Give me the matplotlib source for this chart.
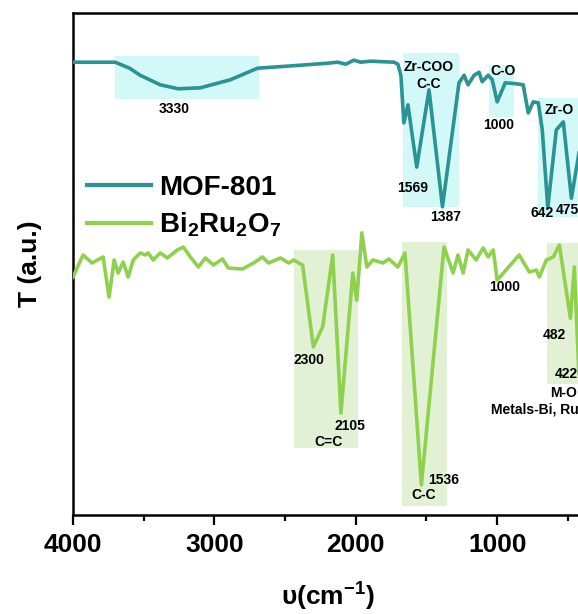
"""
FTIR of MOF-801 and Bi2Ru2O7
"""
import numpy as np
import matplotlib.pyplot as plt
from matplotlib.patches import Rectangle
from matplotlib.ticker import MultipleLocator

plt.rcParams['font.family'] = ['Liberation Sans', 'DejaVu Sans']
plt.rcParams['font.weight'] = 'bold'
plt.rcParams['mathtext.fontset'] = 'custom'
plt.rcParams['mathtext.rm'] = 'Liberation Sans:bold'
plt.rcParams['mathtext.bf'] = 'Liberation Sans:bold'

# MOF-801 spectrum (wavenumber, T a.u.)
mof_x = [4000, 3702, 3600, 3525, 3383, 3255, 3099, 2887, 2695, 2390, 2199, 2128,
         2071, 2014, 1965, 1894, 1730, 1702, 1681, 1660, 1631, 1569, 1482, 1387,
         1270, 1234, 1206, 1163, 1128, 1106, 1064, 1035, 1000, 943, 865, 816, 780,
         745, 709, 681, 642, 582, 532, 475, 418, 400]
mof_y = [90.2, 90.2, 89.0, 87.6, 85.7, 84.9, 85.1, 86.7, 89.0, 89.6, 90.0, 90.2,
         89.8, 90.6, 90.2, 90.4, 90.2, 89.8, 87.6, 78.1, 81.7, 69.3, 84.7, 61.4,
         86.1, 87.6, 85.7, 87.6, 88.2, 86.3, 87.6, 86.7, 82.3, 86.1, 85.9, 85.7, 80.1,
         82.3, 82.1, 76.7, 61.2, 76.7, 78.3, 63.1, 72.7, 76.0]

# Bi2Ru2O7 spectrum
bi_x = [4000, 3929, 3865, 3787, 3745, 3709, 3681, 3645, 3610, 3574, 3525, 3489,
        3468, 3433, 3383, 3333, 3262, 3220, 3170, 3113, 3064, 3007, 2943, 2901,
        2801, 2723, 2660, 2617, 2532, 2475, 2440, 2404, 2376, 2300, 2234, 2163,
        2105, 2021, 1993, 1957, 1922, 1879, 1809, 1766, 1702, 1652, 1536, 1376,
        1312, 1277, 1241, 1206, 1149, 1099, 1064, 1028, 1000, 844, 773, 723, 702,
        652, 603, 560, 482, 454, 422, 400]
bi_y = [47.4, 51.8, 50.2, 51.4, 43.4, 50.8, 48.2, 50.4, 47.4, 50.8, 52.2, 51.8,
        52.2, 50.8, 52.2, 51.2, 52.8, 53.4, 51.4, 49.4, 51.2, 49.8, 51.0, 49.2,
        49.0, 50.2, 51.4, 50.2, 51.2, 50.2, 50.8, 50.2, 49.8, 33.5, 37.5, 51.8,
        20.3, 48.2, 42.8, 56.2, 49.4, 50.8, 50.2, 51.0, 49.4, 52.2, 6.0, 53.4,
        48.2, 51.8, 48.2, 52.8, 50.8, 53.2, 51.4, 52.8, 46.8, 51.8, 48.4, 48.8, 47.4,
        50.8, 51.4, 53.8, 39.2, 49.4, 28.0, 40.0]

# shaded bands: (x1, x2, y1, y2)
mof_boxes = [(3702, 2681, 82.9, 91.4), (1667, 1270, 61.4, 92.0),
             (1057, 880, 79.3, 89.6), (709, 380, 59.4, 83.1)]
bi_boxes = [(2440, 1986, 13.3, 52.8), (1674, 1355, 1.8, 54.4),
            (645, 380, 26.1, 54.2)]

# annotations: (x, y, text, ha)
mof_notes = [(3284, 80.9, '3330', 'center'), (1482, 89.2, 'Zr-COO', 'center'),
             (1482, 85.9, 'C-C', 'center'), (957, 88.4, 'C-O', 'center'),
             (993, 77.7, '1000', 'center'), (560, 80.7, 'Zr-O', 'center'),
             (1596, 65.1, '1569', 'center'), (1362, 59.4, '1387', 'center'),
             (681, 60.2, '642', 'center'), (585, 60.8, '475', 'left')]
bi_notes = [(2333, 30.9, '2300', 'center'), (2040, 17.8, '2105', 'center'),
            (2191, 14.5, 'C=C', 'center'), (1489, 7.0, '1536', 'left'),
            (1518, 4.0, 'C-C', 'center'), (950, 45.4, '1000', 'center'),
            (596, 35.9, '482', 'center'), (433, 28.1, '422', 'right'),
            (433, 24.3, 'M-O', 'right'), (425, 21.0, 'Metals-Bi, Ru', 'right')]

teal = '#2a9393'
green = '#8fd14f'

fig = plt.figure(figsize=(5.78, 6.14), dpi=100)
ax = fig.add_axes([73 / 578, 99 / 614, 509 / 578, 502 / 614])

for x1, x2, y1, y2 in mof_boxes:
    ax.add_patch(Rectangle((x2, y1), x1 - x2, y2 - y1, color='#d3f8f8', lw=0, zorder=1))
for x1, x2, y1, y2 in bi_boxes:
    ax.add_patch(Rectangle((x2, y1), x1 - x2, y2 - y1, color='#e2f0d4', lw=0, zorder=1))

ax.plot(mof_x, mof_y, color=teal, lw=2.6, label='MOF-801', zorder=3)
ax.plot(bi_x, bi_y, color=green, lw=2.6, label=r'$\mathbf{Bi_2Ru_2O_7}$', zorder=3)

for x, y, t, ha in mof_notes + bi_notes:
    ax.text(x, y, t, ha=ha, va='center', fontsize=10, fontweight='bold', zorder=4)

ax.set_xlim(4000, 400)
ax.set_ylim(0, 100)
ax.set_yticks([])
ax.xaxis.set_major_locator(MultipleLocator(1000))
ax.xaxis.set_minor_locator(MultipleLocator(500))
ax.tick_params(axis='x', which='major', direction='out', length=7, width=1.6,
               labelsize=19, pad=6)
ax.tick_params(axis='x', which='minor', direction='out', length=4, width=1.6)
for lab in ax.get_xticklabels():
    lab.set_fontweight('bold')
for s in ax.spines.values():
    s.set_linewidth(1.8)

ax.set_xlabel(r'υ(cm$^{\mathbf{-1}}$)', fontsize=19, fontweight='bold', labelpad=16)
ax.set_ylabel('T (a.u.)', fontsize=19, fontweight='bold', labelpad=22)

leg = ax.legend(loc='upper left', bbox_to_anchor=(-0.01, 0.716), frameon=False,
                prop={'size': 20, 'weight': 'bold'}, handlelength=2.3,
                handletextpad=0.28, labelspacing=0.35, borderaxespad=0.3)
for h in leg.get_lines():
    h.set_linewidth(3)

fig.savefig('out.png', dpi=100)
